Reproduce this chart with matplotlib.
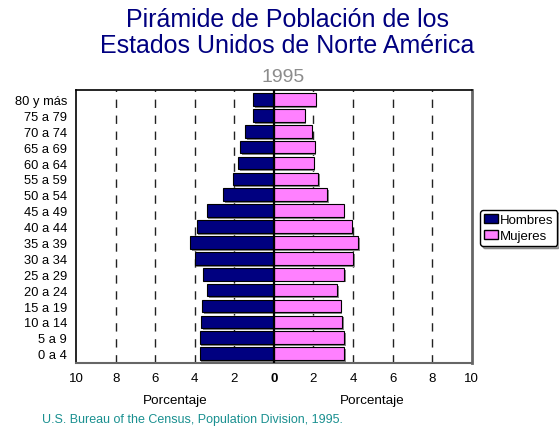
import matplotlib
matplotlib.use("Agg")
import matplotlib.pyplot as plt
from matplotlib.patches import Patch

plt.rcParams['font.family'] = ['Liberation Sans', 'DejaVu Sans']

categories = ["0 a 4", "5 a 9", "10 a 14", "15 a 19", "20 a 24", "25 a 29", "30 a 34",
              "35 a 39", "40 a 44", "45 a 49", "50 a 54", "55 a 59", "60 a 64",
              "65 a 69", "70 a 74", "75 a 79", "80 y más"]
hombres = [3.74, 3.75, 3.67, 3.62, 3.38, 3.58, 4.0, 4.24, 3.9, 3.4, 2.55, 2.05, 1.8, 1.7, 1.45, 1.05, 1.05]
mujeres = [3.55, 3.55, 3.46, 3.38, 3.2, 3.55, 4.02, 4.27, 3.94, 3.52, 2.68, 2.24, 2.01, 2.06, 1.91, 1.55, 2.12]
xticks = [-10, -8, -6, -4, -2, 0, 2, 4, 6, 8, 10]
xticklabels = ["10", "8", "6", "4", "2", "0", "2", "4", "6", "8", "10"]

navy = "#000080"
pink = "#ff80ff"

fig = plt.figure(figsize=(5.59, 4.31), dpi=100)
ax = fig.add_axes([0.136, 0.155, 0.708, 0.634])

y = list(range(len(categories)))
h = 0.8
# shadows
ax.barh([v - 0.12 for v in y], [-v for v in hombres], height=h, left=0.08, color="#888888", zorder=2)
ax.barh([v - 0.12 for v in y], mujeres, height=h, left=0.08, color="#888888", zorder=2)
ax.barh(y, [-v for v in hombres], height=h, color=navy, edgecolor="black", linewidth=0.8, zorder=3)
ax.barh(y, mujeres, height=h, color=pink, edgecolor="black", linewidth=0.8, zorder=3)

for gx in [-8, -6, -4, -2, 2, 4, 6, 8]:
    ax.axvline(gx, color="#222222", linestyle=(0, (6, 5.5)), linewidth=1.0, zorder=1)
ax.axvline(0, color="black", linewidth=1.6, zorder=4)

ax.set_xlim(-10, 10)
ax.set_ylim(-0.6, len(categories) - 0.4)
ax.set_xticks(xticks)
ax.set_xticklabels(xticklabels, fontsize=9.5)
ax.get_xticklabels()[5].set_fontweight("bold")
ax.set_yticks(y)
ax.set_yticklabels(categories, fontsize=9.3)
ax.tick_params(axis="both", length=0, pad=6)
ax.tick_params(axis="y", pad=6.5)
for s in ["left", "top"]:
    ax.spines[s].set_color("black")
    ax.spines[s].set_linewidth(1.2)
ax.spines["right"].set_color("#666666")
ax.spines["right"].set_linewidth(2)
ax.spines["bottom"].set_color("#666666")
ax.spines["bottom"].set_linewidth(1.5)

title_color = "#000080"
fig.text(0.514, 1 - 20 / 431, "Pirámide de Población de los", ha="center", va="center",
         fontsize=18, color=title_color)
fig.text(0.514, 1 - 46 / 431, "Estados Unidos de Norte América", ha="center", va="center",
         fontsize=18, color=title_color)
fig.text(0.507, 1 - 77 / 431, "1995", ha="center", va="center", fontsize=14, color="#8c8c8c")

fig.text(175 / 559, 1 - 401 / 431, "Porcentaje", ha="center", va="center", fontsize=9.7)
fig.text(372 / 559, 1 - 401 / 431, "Porcentaje", ha="center", va="center", fontsize=9.7)
fig.text(42 / 559, 1 - 420 / 431, "U.S. Bureau of the Census, Population Division, 1995.",
         ha="left", va="center", fontsize=9.0, color="#1a9090")

handles = [Patch(facecolor=navy, edgecolor="black", label="Hombres"),
           Patch(facecolor=pink, edgecolor="black", label="Mujeres")]
leg = fig.legend(handles=handles, loc="center left", bbox_to_anchor=(480 / 559, 1 - 229 / 431),
                 fontsize=9.5, frameon=True, fancybox=True, shadow=True, handlelength=1.1,
                 handleheight=0.7, handletextpad=0.1, borderpad=0.3, labelspacing=0.25,
                 borderaxespad=0)
leg.get_frame().set_edgecolor("black")

fig.savefig("out.png", dpi=100)
